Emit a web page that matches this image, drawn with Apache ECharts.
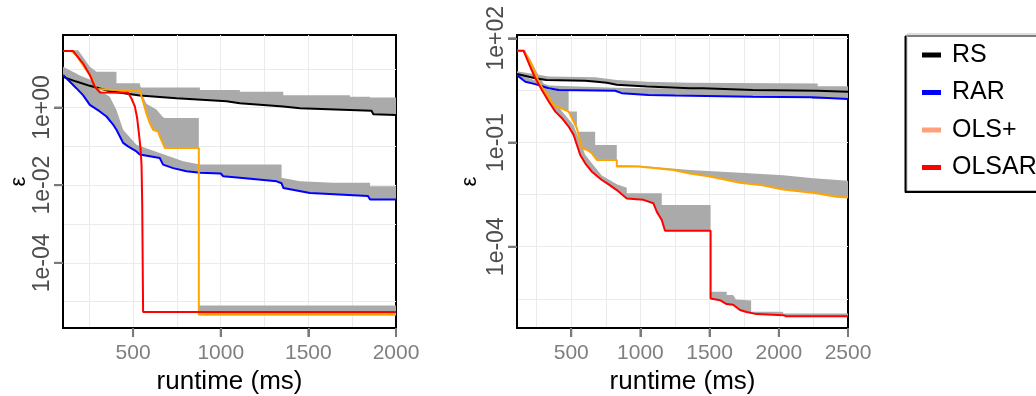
<!DOCTYPE html>
<html>
<head>
<meta charset="utf-8">
<script src="https://cdn.jsdelivr.net/npm/echarts@6/dist/echarts.min.js"></script>
<style>
html, body { margin: 0; padding: 0; background: #fff; }
#chart { width: 1036px; height: 396px; }
</style>
</head>
<body>
<div id="chart"></div>
<script>
// points are [runtime (ms), log10(epsilon)]
const seriesNames = ['RS', 'RAR', 'OLS+', 'OLSAR'];
const lineColors = ['#000000', '#0000ff', '#ffa500', '#ff0000'];
const legendColors = ['#000000', '#0000ff', '#ffa07a', '#ff0000'];

// left panel
const leftRS = [[100,0.79],[176,0.67],[253,0.56],[367,0.42],[538,0.31],[748,0.24],[1033,0.16],[1109,0.11],[1357,0.03],[1452,-0.02],[1737,-0.06],[1860,-0.08],[1871,-0.17],[2000,-0.19]];
const leftRSBand = [[100,1.0],[310,0.62],[538,0.62],[538,0.52],[881,0.52],[881,0.45],[1109,0.45],[1109,0.41],[1357,0.41],[1357,0.32],[1737,0.32],[1737,0.28],[1852,0.28],[1852,0.26],[2000,0.26]];
const leftRAR = [[100,0.84],[138,0.67],[176,0.50],[214,0.32],[253,0.07],[310,-0.10],[348,-0.23],[386,-0.44],[405,-0.57],[443,-0.91],[471,-1.0],[519,-1.13],[538,-1.21],[652,-1.30],[671,-1.47],[728,-1.56],[805,-1.64],[881,-1.68],[1000,-1.70],[1014,-1.77],[1109,-1.81],[1319,-1.90],[1347,-1.95],[1357,-2.07],[1509,-2.20],[1840,-2.28],[1852,-2.37],[2000,-2.37]];
const leftRARBand = [[100,1.05],[176,0.88],[253,0.62],[367,0.28],[405,-0.06],[443,-0.57],[519,-0.96],[652,-1.17],[786,-1.38],[881,-1.47],[1347,-1.47],[1347,-1.81],[1452,-1.90],[1642,-1.94],[1852,-1.94],[1852,-2.03],[2000,-2.03]];
const leftOLS = [[100,1.46],[148,1.46],[176,1.35],[214,1.09],[253,0.84],[281,0.58],[291,0.48],[400,0.45],[538,0.44],[557,0.15],[576,-0.15],[595,-0.40],[614,-0.57],[643,-0.62],[652,-0.74],[681,-1.04],[875,-1.04],[875,-5.34],[2000,-5.34]];
const leftOLSBand = [[100,1.48],[186,1.48],[214,1.30],[253,1.05],[291,0.92],[405,0.92],[405,0.62],[538,0.62],[557,0.28],[576,0.10],[633,-0.05],[671,-0.25],[681,-0.27],[875,-0.27],[875,-5.10],[2000,-5.10]];
const leftOLSAR = [[100,1.46],[157,1.46],[176,1.35],[214,1.14],[253,0.84],[281,0.54],[310,0.39],[471,0.38],[490,0.24],[510,0.03],[523,-0.27],[534,-0.70],[542,-1.04],[548,-1.47],[552,-2.5],[557,-5.27],[2000,-5.27]];

// right panel
const rightRS = [[108,0.97],[240,0.85],[320,0.80],[600,0.78],[685,0.75],[757,0.72],[829,0.66],[1046,0.61],[1358,0.56],[1452,0.56],[1452,0.51],[1812,0.51],[1812,0.49],[2281,0.49],[2281,0.46],[2500,0.46]];
const rightRSBand = [[108,1.05],[337,0.90],[673,0.88],[829,0.80],[1046,0.75],[1358,0.72],[2281,0.70],[2281,0.62],[2500,0.62]];
const rightRAR = [[108,0.94],[168,0.75],[240,0.68],[337,0.56],[409,0.51],[817,0.49],[865,0.42],[1058,0.37],[1250,0.35],[1812,0.32],[1812,0.30],[2238,0.30],[2238,0.25],[2500,0.25]];
const rightRARBand = [[108,0.98],[337,0.64],[817,0.58],[1452,0.54],[1812,0.50],[2500,0.47]];
const rightOLS = [[108,1.64],[156,1.64],[192,1.42],[228,1.14],[264,0.75],[300,0.51],[337,0.32],[373,0.08],[481,-0.11],[517,-0.40],[541,-0.59],[577,-1.17],[613,-1.21],[649,-1.31],[685,-1.50],[829,-1.50],[829,-1.69],[986,-1.69],[1238,-1.79],[1358,-1.89],[1502,-1.98],[1719,-2.16],[1863,-2.22],[2031,-2.35],[2175,-2.42],[2272,-2.46],[2416,-2.56],[2500,-2.58]];
const rightOLSBand = [[108,1.66],[168,1.66],[204,1.30],[240,0.95],[337,0.51],[481,0.51],[481,-0.11],[541,-0.11],[541,-0.69],[673,-0.69],[673,-1.07],[829,-1.07],[829,-1.65],[1000,-1.67],[1358,-1.79],[1719,-1.87],[2031,-1.94],[2250,-2.03],[2500,-2.10]];
const rightOLSAR = [[108,1.64],[156,1.64],[168,1.52],[204,1.18],[240,0.85],[288,0.51],[337,0.18],[385,-0.11],[433,-0.30],[481,-0.54],[517,-0.78],[541,-1.07],[565,-1.36],[601,-1.60],[649,-1.84],[721,-2.08],[757,-2.17],[829,-2.37],[901,-2.61],[1022,-2.65],[1094,-2.75],[1118,-2.99],[1154,-3.23],[1178,-3.54],[1507,-3.54],[1507,-5.49],[1574,-5.54],[1623,-5.65],[1670,-5.67],[1719,-5.82],[1767,-5.88],[1839,-5.94],[2031,-5.97],[2055,-6.0],[2500,-6.0]];
const rightOLSARBand = [[108,1.66],[168,1.60],[204,1.40],[240,1.10],[300,0.70],[360,0.30],[433,-0.10],[517,-0.50],[565,-1.0],[601,-1.35],[649,-1.60],[721,-1.95],[829,-2.20],[901,-2.30],[901,-2.46],[1154,-2.46],[1154,-2.80],[1507,-2.80],[1507,-5.30],[1623,-5.30],[1623,-5.39],[1670,-5.39],[1690,-5.52],[1800,-5.55],[1800,-5.87],[2031,-5.87],[2031,-5.92],[2500,-5.92]];

// axis ranges and breaks
const leftXRange = [100, 2000];
const rightXRange = [108, 2500];
const leftYRange = [-5.68, 1.87];
const rightYRange = [-6.34, 2.095];
const leftXTicks = [500, 1000, 1500, 2000];
const rightXTicks = [500, 1000, 1500, 2000, 2500];
const leftXGrid = [250, 500, 750, 1000, 1250, 1500, 1750];
const rightXGrid = [250, 500, 750, 1000, 1250, 1500, 1750, 2000, 2250];
const leftYTicks = [-4, -2, 0];
const rightYTicks = [-4, -1, 2];
const leftYGrid = [-5, -4, -3, -2, -1, 0, 1];
const rightYGrid = [-5.5, -4, -2.5, -1, 0.5, 2];

const font = 'Liberation Sans, Arial, Helvetica, sans-serif';
const bandColor = '#aaaaaa';
const gridLineColor = '#ebebeb';
const tickColor = '#7a7a7a';

function expLabel(v) {
    const n = Math.round(v);
    const s = String(Math.abs(n)).padStart(2, '0');
    return '1e' + (n < 0 ? '-' : '+') + s;
}

function xAxisFor(gridIndex, range, ticks) {
    return {
        type: 'value', gridIndex: gridIndex, min: range[0], max: range[1], position: 'bottom',
        name: 'runtime (ms)', nameLocation: 'middle', nameGap: 40,
        nameTextStyle: { fontSize: 26, color: '#000', fontFamily: font },
        axisLine: { show: true, onZero: false, lineStyle: { color: '#000', width: 2 } },
        axisTick: { show: true, length: 9, customValues: ticks, lineStyle: { color: tickColor, width: 2 } },
        axisLabel: { customValues: ticks, fontSize: 21, color: '#7f7f7f', fontFamily: font, margin: 15,
            formatter: function (v) { return String(v); } },
        splitLine: { show: false }
    };
}

function yAxisFor(gridIndex, range, ticks, gap) {
    return {
        type: 'value', gridIndex: gridIndex, min: range[0], max: range[1], position: 'left',
        name: 'ε', nameLocation: 'middle', nameGap: gap, nameRotate: 90,
        nameTextStyle: { fontSize: 22, color: '#000', fontFamily: font },
        axisLine: { show: true, onZero: false, lineStyle: { color: '#000', width: 2 } },
        axisTick: { show: true, length: 9, customValues: ticks, lineStyle: { color: tickColor, width: 2 } },
        axisLabel: { customValues: ticks, rotate: 90, fontSize: 23, color: '#4d4d4d', fontFamily: font, margin: 9, formatter: expLabel },
        splitLine: { show: false }
    };
}

// light background grid lines, placed through the axes with markLine
function gridLines(xi, xs, ys, anchor) {
    return {
        type: 'line', xAxisIndex: xi, yAxisIndex: xi, z: 0, silent: true,
        data: [anchor], symbol: 'none', lineStyle: { width: 0, opacity: 0 },
        markLine: {
            silent: true, symbol: 'none', label: { show: false }, animation: false, z: 0,
            lineStyle: { color: gridLineColor, width: 1, type: 'solid' },
            data: xs.map(function (v) { return { xAxis: v }; }).concat(ys.map(function (v) { return { yAxis: v }; }))
        }
    };
}

// outward tick marks at the labelled breaks, positioned by the axes
function tickMarks(xi, xTicks, yTicks, xRange, yRange) {
    const items = xTicks.map(function (v) { return [v, yRange[0], 0]; })
        .concat(yTicks.map(function (v) { return [xRange[0], v, 1]; }));
    return {
        type: 'custom', xAxisIndex: xi, yAxisIndex: xi, z: 20, silent: true, clip: false,
        data: items,
        renderItem: function (params, api) {
            const p = api.coord([api.value(0), api.value(1)]);
            const shape = api.value(2) === 0
                ? { x1: p[0], y1: p[1] + 1, x2: p[0], y2: p[1] + 9 }
                : { x1: p[0] - 1, y1: p[1], x2: p[0] - 9, y2: p[1] };
            return { type: 'line', shape: shape, style: { stroke: tickColor, lineWidth: 2 } };
        }
    };
}

function band(upper, lower, xi) {
    return {
        type: 'custom', xAxisIndex: xi, yAxisIndex: xi, z: 2, silent: true, clip: true,
        data: [upper[0]],
        renderItem: function (params, api) {
            const pts = upper.concat(lower.slice().reverse()).map(function (p) { return api.coord(p); });
            return { type: 'polygon', shape: { points: pts }, style: { fill: bandColor } };
        }
    };
}

function line(idx, pts, xi) {
    return {
        name: seriesNames[idx], type: 'line', data: pts, xAxisIndex: xi, yAxisIndex: xi,
        symbol: 'none', showSymbol: false, z: 6 + idx,
        lineStyle: { color: lineColors[idx], width: 2 },
        itemStyle: { color: lineColors[idx] }
    };
}

const chart = echarts.init(document.getElementById('chart'));
chart.setOption({
    animation: false,
    grid: [
        { left: 63, top: 35, width: 333, height: 293, show: true, borderColor: '#000', borderWidth: 2, outerBoundsMode: 'none' },
        { left: 517, top: 35, width: 331, height: 293, show: true, borderColor: '#000', borderWidth: 2, outerBoundsMode: 'none' }
    ],
    xAxis: [
        xAxisFor(0, leftXRange, leftXTicks),
        xAxisFor(1, rightXRange, rightXTicks)
    ],
    yAxis: [
        yAxisFor(0, leftYRange, leftYTicks, 33),
        yAxisFor(1, rightYRange, rightYTicks, 36)
    ],
    legend: {
        orient: 'vertical', left: 907, top: 34,
        icon: 'rect', itemWidth: 19, itemHeight: 5, itemGap: 9.5,
        padding: [7, 60, 9, 15],
        textStyle: { fontSize: 25, color: '#000', fontFamily: font, lineHeight: 28, padding: [0, 0, 0, 6] },
        backgroundColor: '#fff', borderColor: '#bdbdbd', borderWidth: 1,
        shadowColor: '#000', shadowOffsetX: -2, shadowOffsetY: 2, shadowBlur: 0,
        selectedMode: false,
        data: seriesNames.map(function (n, i) { return { name: n, itemStyle: { color: legendColors[i], borderWidth: 0 } }; })
    },
    series: [
        gridLines(0, leftXGrid, leftYGrid, leftRS[0]),
        band(leftRSBand, leftRS, 0),
        band(leftRARBand, leftRAR, 0),
        band(leftOLSBand, leftOLS, 0),
        line(0, leftRS, 0),
        line(1, leftRAR, 0),
        line(2, leftOLS, 0),
        line(3, leftOLSAR, 0),
        tickMarks(0, leftXTicks, leftYTicks, leftXRange, leftYRange),
        gridLines(1, rightXGrid, rightYGrid, rightRS[0]),
        band(rightRSBand, rightRS, 1),
        band(rightRARBand, rightRAR, 1),
        band(rightOLSBand, rightOLS, 1),
        band(rightOLSARBand, rightOLSAR, 1),
        line(0, rightRS, 1),
        line(1, rightRAR, 1),
        line(2, rightOLS, 1),
        line(3, rightOLSAR, 1),
        tickMarks(1, rightXTicks, rightYTicks, rightXRange, rightYRange)
    ]
});
</script>
</body>
</html>
